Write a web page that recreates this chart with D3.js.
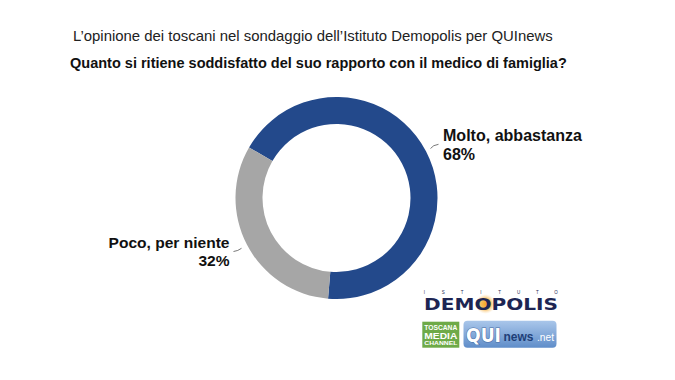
<!DOCTYPE html>
<html><head><meta charset="utf-8">
<script src="https://cdn.jsdelivr.net/npm/d3@7"></script>
<style>body{margin:0;background:#fff}svg{display:block}</style>
</head><body>
<svg id="c" width="675" height="380"></svg>
<script>
const categories = ["Molto, abbastanza", "Poco, per niente"];
const values = [68, 32];
const valueLabels = ["68%", "32%"];
const colors = ["#23498b", "#a6a6a6"];
const title = "L\u2019opinione dei toscani nel sondaggio dell\u2019Istituto Demopolis per QUInews";
const subtitle = "Quanto si ritiene soddisfatto del suo rapporto con il medico di famiglia?";

const svg = d3.select("#c");
const font = "'Liberation Sans', Arial, Helvetica, sans-serif";

function fit(sel, w) {
  const n = sel.node();
  const fs = parseFloat(sel.attr("font-size"));
  const len = n.getComputedTextLength();
  sel.attr("font-size", (fs * w / len).toFixed(2));
}

// titles
svg.append("text").attr("x", 73).attr("y", 41).attr("font-family", font)
  .attr("font-size", 17).attr("fill", "#222").text(title).call(fit, 480);
svg.append("text").attr("x", 70).attr("y", 68).attr("font-family", font)
  .attr("font-size", 16).attr("font-weight", "bold").attr("fill", "#111").text(subtitle).call(fit, 497);

// donut
const cx = 336.5, cy = 198, rOut = 101, rIn = 74;
const pie = d3.pie().sort(null).startAngle(-60 * Math.PI / 180).endAngle(300 * Math.PI / 180);
const arc = d3.arc().innerRadius(rIn).outerRadius(rOut);
const g = svg.append("g").attr("transform", `translate(${cx},${cy})`);
g.selectAll("path").data(pie(values)).join("path")
  .attr("d", arc).attr("fill", (d, i) => colors[i]);

// labels
const lab = svg.append("g").attr("font-family", font).attr("font-weight", "bold").attr("fill", "#111");
const l1 = lab.append("text").attr("x", 443).attr("y", 141).attr("font-size", 16).text(categories[0]);
l1.call(fit, 139);
lab.append("text").attr("x", 443).attr("y", 160).attr("font-size", l1.attr("font-size")).text(valueLabels[0]);
const l2 = lab.append("text").attr("x", 229.5).attr("y", 247.5).attr("text-anchor", "end").attr("font-size", 16).text(categories[1]);
l2.call(fit, 121);
lab.append("text").attr("x", 229.5).attr("y", 266).attr("text-anchor", "end").attr("font-size", l2.attr("font-size")).text(valueLabels[1]);

// leader lines
svg.append("path").attr("d", "M430.5,148.5 Q433,145 438.5,144.3").attr("fill", "none").attr("stroke", "#555").attr("stroke-width", 0.8);
svg.append("path").attr("d", "M233.5,251.5 Q238,251 241.5,248.3").attr("fill", "none").attr("stroke", "#555").attr("stroke-width", 0.8);

// logos
const defs = svg.append("defs");
const rg = defs.append("radialGradient").attr("id", "glow");
rg.append("stop").attr("offset", "0%").attr("stop-color", "#f5a623");
rg.append("stop").attr("offset", "55%").attr("stop-color", "#f7b956").attr("stop-opacity", 0.9);
rg.append("stop").attr("offset", "100%").attr("stop-color", "#fde3b8").attr("stop-opacity", 0);
const lg = defs.append("linearGradient").attr("id", "qui").attr("x1", 0).attr("y1", 0).attr("x2", 0).attr("y2", 1);
lg.append("stop").attr("offset", "0%").attr("stop-color", "#a9c6ea");
lg.append("stop").attr("offset", "100%").attr("stop-color", "#5f8dc9");

const lo = svg.append("g");
lo.append("circle").attr("cx", 485.5).attr("cy", 304).attr("r", 10).attr("fill", "url(#glow)");
"ISTITUTO".split("").forEach((ch, i) => {
  lo.append("text").attr("x", 424.5 + i * 18.8).attr("y", 294).attr("font-family", font)
    .attr("font-size", 4.5).attr("fill", "#1e2a55").attr("text-anchor", "middle").text(ch);
});
const dm = lo.append("text").attr("x", 424).attr("y", 309.5).attr("font-family", "'DejaVu Sans', sans-serif")
  .attr("font-weight", "bold").attr("font-size", 15).attr("fill", "#1d2553").text("DEMOPOLIS");
dm.attr("textLength", 134).attr("lengthAdjust", "spacingAndGlyphs");

lo.append("rect").attr("x", 422.3).attr("y", 321.7).attr("width", 37).attr("height", 26).attr("fill", "#6eaa48");
[["TOSCANA", 329.5, 7], ["MEDIA", 338.5, 9.5], ["CHANNEL", 345, 6]].forEach(([t, y, s]) => {
  lo.append("text").attr("x", 440.8).attr("y", y).attr("text-anchor", "middle").attr("font-family", font)
    .attr("font-weight", "bold").attr("font-size", s).attr("fill", "#fff")
    .attr("textLength", 33).attr("lengthAdjust", "spacingAndGlyphs").text(t);
});

lo.append("rect").attr("x", 463.5).attr("y", 320.8).attr("width", 93).attr("height", 27).attr("rx", 4).attr("fill", "url(#qui)");
lo.append("text").attr("x", 466).attr("y", 342).attr("font-family", "'DejaVu Sans', sans-serif").attr("font-weight", "900")
  .attr("font-size", 20).attr("fill", "#fff").attr("stroke", "#4a6ea5").attr("stroke-width", 1.2).attr("paint-order", "stroke")
  .attr("textLength", 35).attr("lengthAdjust", "spacingAndGlyphs").text("QUI");
lo.append("text").attr("x", 503.5).attr("y", 340.5).attr("font-family", font).attr("font-weight", "bold")
  .attr("font-size", 13).attr("fill", "#1f3f78").attr("textLength", 30).attr("lengthAdjust", "spacingAndGlyphs").text("news");
lo.append("text").attr("x", 537).attr("y", 340.5).attr("font-family", font)
  .attr("font-size", 11).attr("fill", "#fff").attr("textLength", 17).attr("lengthAdjust", "spacingAndGlyphs").text(".net");
</script>
</body></html>
